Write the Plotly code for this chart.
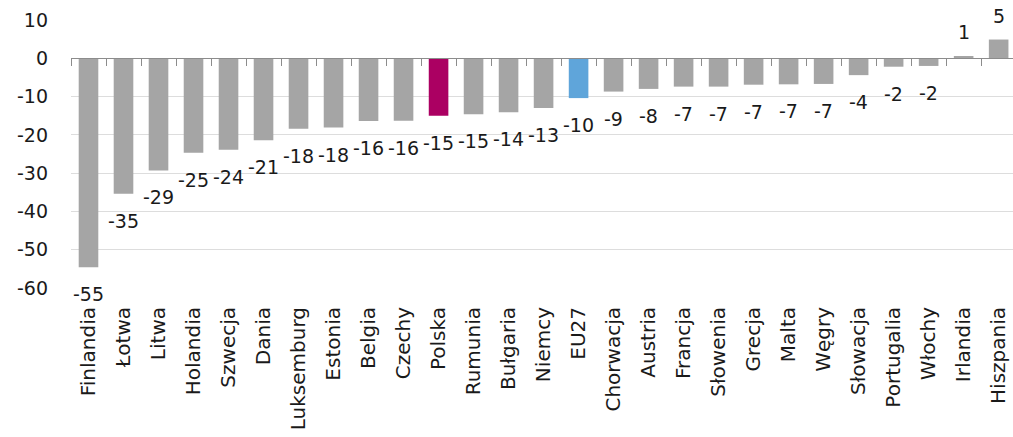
import plotly.graph_objects as go

categories = ["Finlandia", "Łotwa", "Litwa", "Holandia", "Szwecja", "Dania", "Luksemburg",
              "Estonia", "Belgia", "Czechy", "Polska", "Rumunia", "Bułgaria", "Niemcy", "EU27",
              "Chorwacja", "Austria", "Francja", "Słowenia", "Grecja", "Malta", "Węgry",
              "Słowacja", "Portugalia", "Włochy", "Irlandia", "Hiszpania"]
values = [-54.6, -35.4, -29.3, -24.7, -23.9, -21.4, -18.4, -18.1, -16.4, -16.3, -15.0, -14.6,
          -14.1, -13.0, -10.4, -8.7, -8.0, -7.4, -7.4, -6.9, -6.8, -6.7, -4.4, -2.2, -2.0, 0.6, 4.9]
value_labels = ["-55", "-35", "-29", "-25", "-24", "-21", "-18", "-18", "-16", "-16", "-15", "-15",
                "-14", "-13", "-10", "-9", "-8", "-7", "-7", "-7", "-7", "-7", "-4", "-2", "-2", "1", "5"]
y_ticks = [-60, -50, -40, -30, -20, -10, 0, 10]
y_tick_text = ["-60", "-50", "-40", "-30", "-20", "-10", "0", "10"]

GRAY = "#A5A5A5"
highlight = {"Polska": "#AB0062", "EU27": "#5FA5DA"}
colors = [highlight.get(c, GRAY) for c in categories]

FONT = "DejaVu Sans"

fig = go.Figure()
fig.add_trace(go.Bar(x=categories, y=values, marker=dict(color=colors, line=dict(width=0)),
                     width=0.56, hoverinfo="skip", showlegend=False))
# invisible trace to carry the zero-line axis with boundary ticks
fig.add_trace(go.Scatter(x=categories, y=values, xaxis="x2", mode="markers",
                         marker=dict(opacity=0), hoverinfo="skip", showlegend=False))

for c, v, t in zip(categories, values, value_labels):
    fig.add_annotation(x=c, y=v, text=t, showarrow=False, xanchor="center", yanchor="middle",
                       yshift=(-27 if v < 0 else 24),
                       font=dict(family=FONT, size=19, color="#1a1a1a"))

fig.update_layout(
    width=1013, height=437,
    margin=dict(l=71, r=0, t=20, b=149),
    paper_bgcolor="white", plot_bgcolor="white",
    bargap=0.44,
    font=dict(family=FONT, color="#1a1a1a"),
    xaxis=dict(type="category", categoryorder="array", categoryarray=categories,
               range=[-0.5, 26.41], tickangle=-90, ticks="", showgrid=False,
               showline=False, zeroline=False, ticklabelstandoff=14,
               tickfont=dict(family=FONT, size=20, color="#1a1a1a")),
    xaxis2=dict(type="category", categoryorder="array", categoryarray=categories,
                overlaying="x", matches="x", anchor="free", position=60 / 70,
                showticklabels=False, ticks="outside", tickson="boundaries", ticklen=7,
                tickcolor="#8c8c8c", tickwidth=1, showline=True, linecolor="#8c8c8c",
                linewidth=1, showgrid=False, zeroline=False),
    yaxis=dict(range=[-60, 10], tickvals=y_ticks, ticktext=y_tick_text, showgrid=True,
               gridcolor="#dddddd", gridwidth=1, zeroline=False, showline=False, ticks="",
               ticklabelstandoff=22, tickfont=dict(family=FONT, size=19, color="#1a1a1a")),
)

fig.write_html("out.html")
